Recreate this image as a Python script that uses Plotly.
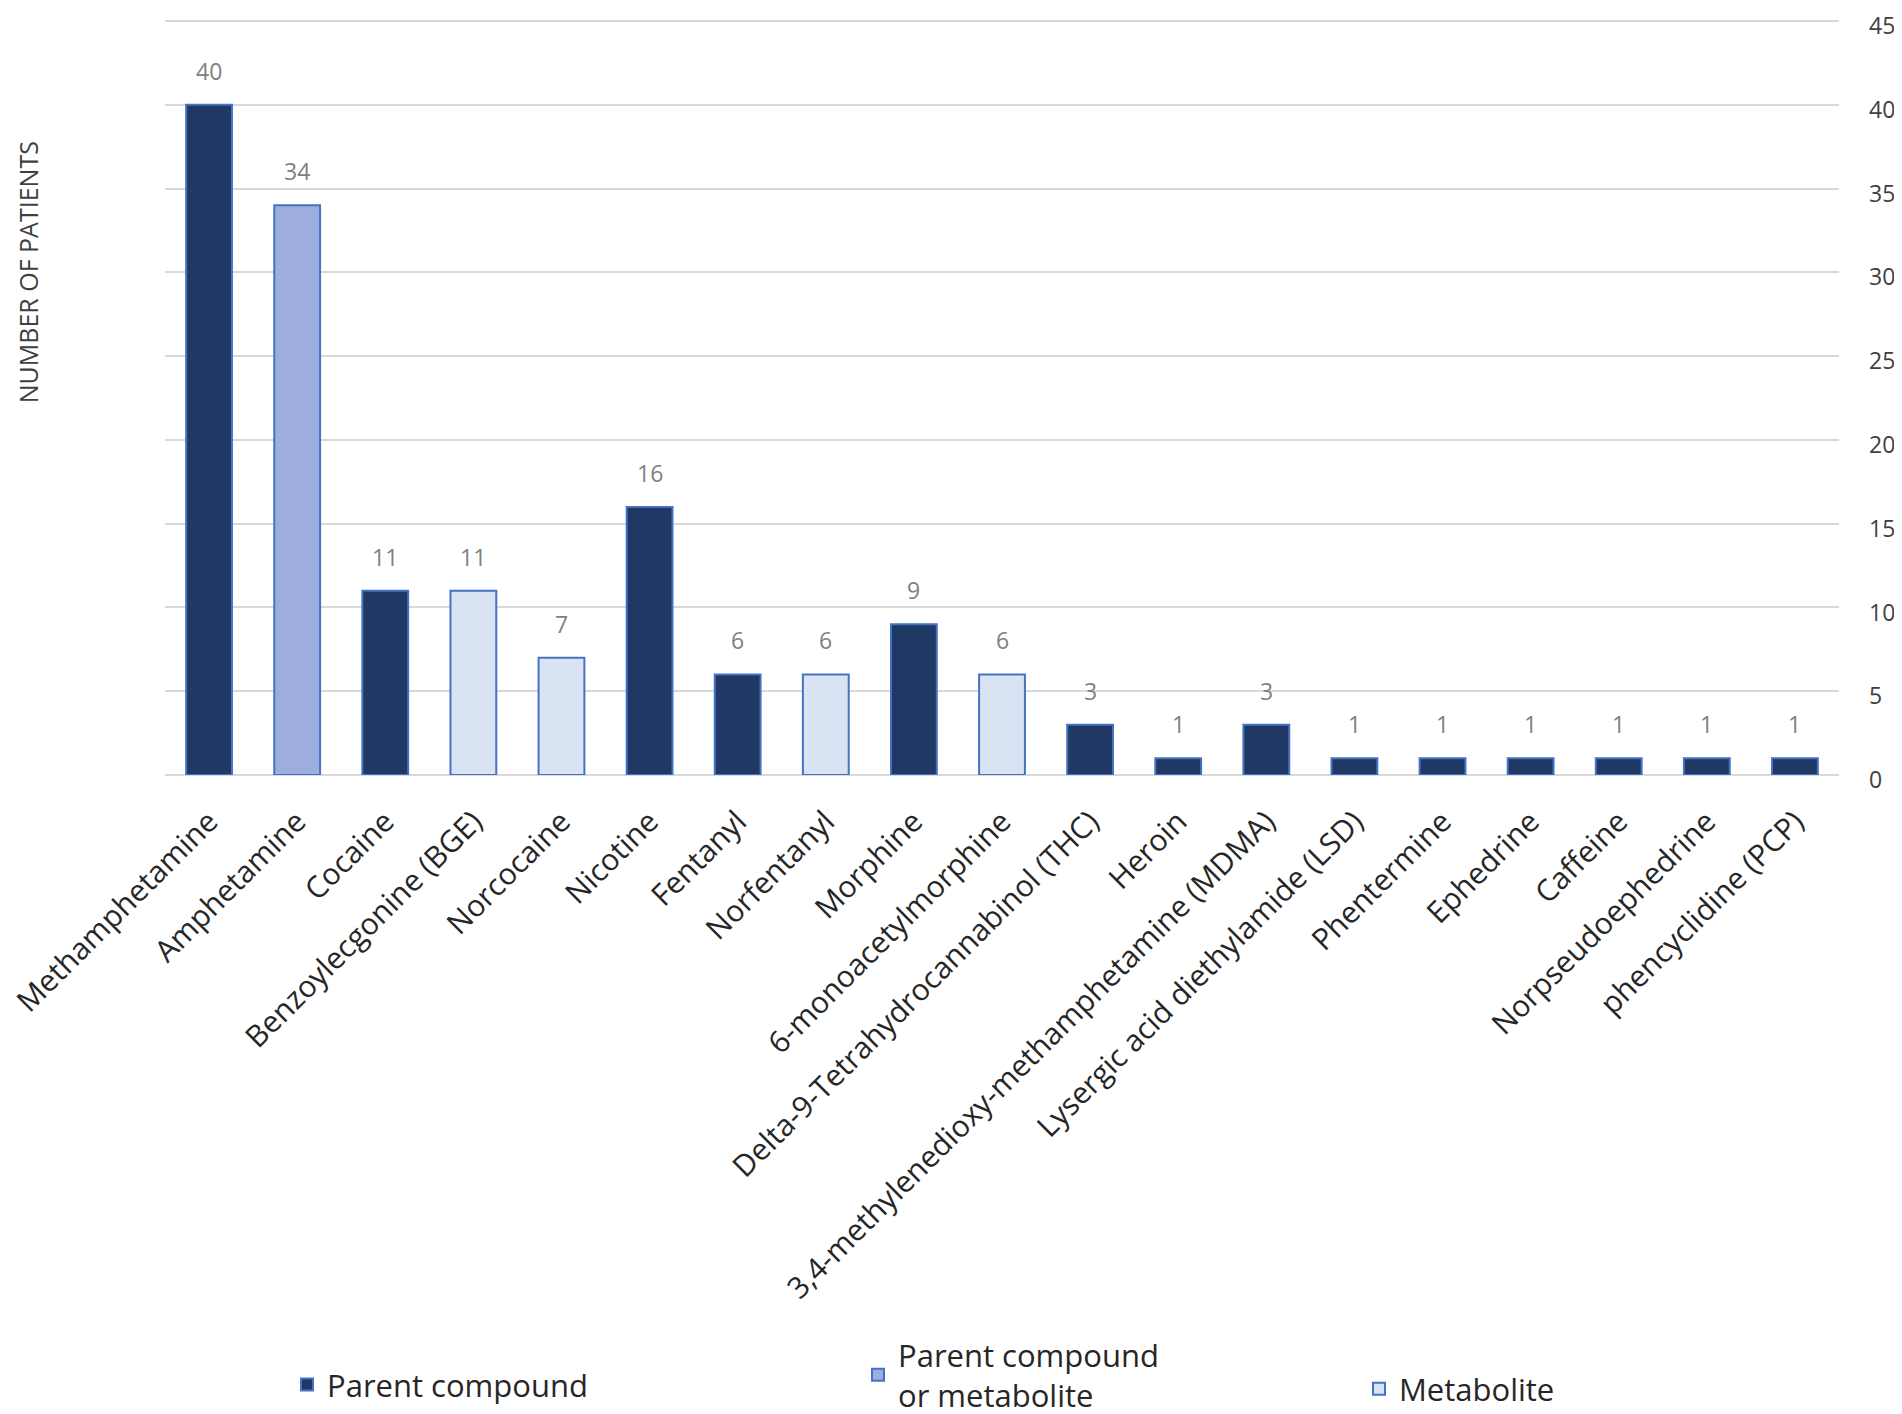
import plotly.graph_objects as go

categories = [
    "Methamphetamine", "Amphetamine", "Cocaine", "Benzoylecgonine (BGE)",
    "Norcocaine", "Nicotine", "Fentanyl", "Norfentanyl", "Morphine",
    "6-monoacetylmorphine", "Delta-9-Tetrahydrocannabinol (THC)", "Heroin",
    "3,4-methylenedioxy-methamphetamine (MDMA)", "Lysergic acid diethylamide (LSD)",
    "Phentermine", "Ephedrine", "Caffeine", "Norpseudoephedrine", "phencyclidine (PCP)",
]
patients = [40, 34, 11, 11, 7, 16, 6, 6, 9, 6, 3, 1, 3, 1, 1, 1, 1, 1, 1]
groups = [
    "parent", "both", "parent", "metabolite", "metabolite", "parent", "parent",
    "metabolite", "parent", "metabolite", "parent", "parent", "parent", "parent",
    "parent", "parent", "parent", "parent", "parent",
]
group_names = {
    "parent": "Parent compound",
    "both": "Parent compound<br>or metabolite",
    "metabolite": "Metabolite",
}
group_colors = {"parent": "#203864", "both": "#9DAEDE", "metabolite": "#DAE3F3"}
group_legends = {"parent": "legend", "both": "legend2", "metabolite": "legend3"}
y_ticks = [0, 5, 10, 15, 20, 25, 30, 35, 40, 45]

FONT = "Open Sans"
fig = go.Figure()
for g in ["parent", "both", "metabolite"]:
    xs = [c for c, gg in zip(categories, groups) if gg == g]
    ys = [v for v, gg in zip(patients, groups) if gg == g]
    fig.add_trace(go.Bar(
        x=xs, y=ys, name=group_names[g], width=0.52, legend=group_legends[g],
        marker=dict(color=group_colors[g], line=dict(color="#4472C4", width=2)),
    ))

for c, v in zip(categories, patients):
    fig.add_annotation(
        x=c, y=v, text=str(v), showarrow=False, yanchor="bottom", yshift=16,
        font=dict(family=FONT, size=23, color="#808080"),
    )

fig.add_annotation(
    xref="paper", yref="paper", x=-0.0935, y=0.663, text="NUMBER OF PATIENTS",
    textangle=-90, showarrow=False, xanchor="left", yanchor="middle",
    font=dict(family=FONT, size=25, color="#404040"),
)

legend_font = dict(family=FONT, size=31, color="#262626")
def leg(x, y):
    return dict(
        orientation="h", xref="container", yref="container", x=x, y=y,
        xanchor="left", yanchor="middle", font=legend_font, valign="middle",
        bgcolor="rgba(0,0,0,0)",
    )

fig.update_layout(
    width=1902, height=1414,
    margin=dict(l=157, r=71, t=8, b=647, autoexpand=False),
    paper_bgcolor="white", plot_bgcolor="white",
    barmode="overlay",
    font=dict(family=FONT, color="#262626"),
    legend=leg(0.1467, 0.0262),
    legend2=leg(0.4469, 0.0332),
    legend3=leg(0.7103, 0.0233),
    showlegend=True,
)
fig.update_xaxes(
    type="category", categoryorder="array", categoryarray=categories,
    tickangle=-45, tickfont=dict(family=FONT, size=30, color="#262626"),
    showgrid=False, showline=False, ticks="", ticklabelstandoff=22,
    automargin=False,
)
fig.update_yaxes(
    side="right", range=[0, 45.3], tickvals=y_ticks,
    tickfont=dict(family=FONT, size=23, color="#404040"),
    showgrid=True, gridcolor="#D9D9D9", gridwidth=1.5,
    zeroline=True, zerolinecolor="#D9D9D9", zerolinewidth=1.5,
    showline=False, ticks="", ticklabelstandoff=29, automargin=False,
    ticklabeloverflow="allow", ticklabelshift=5,
)

fig.write_html("out.html")
